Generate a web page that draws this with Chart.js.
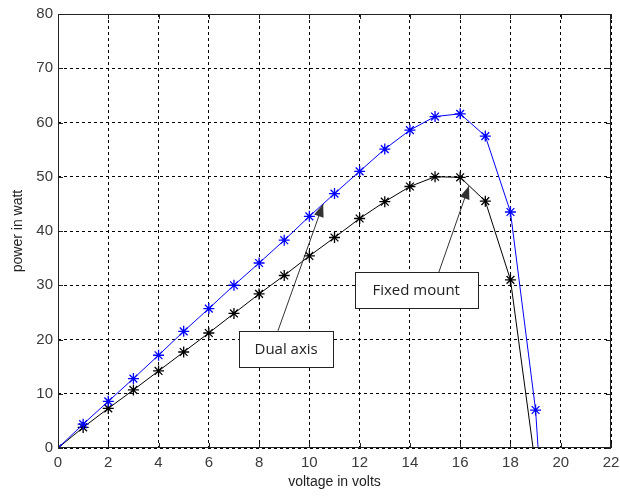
<!DOCTYPE html>
<html>
<head>
<meta charset="utf-8">
<script src="https://cdn.jsdelivr.net/npm/chart.js@4/dist/chart.umd.min.js"></script>
<style>
  html, body { margin: 0; padding: 0; background: #fff; }
  #wrap { width: 620px; height: 496px; }
</style>
</head>
<body>
<div id="wrap"><canvas id="canvas" width="620" height="496"></canvas></div>
<script>
// voltage (V) and power (W)
var dualV   = [0, 1, 2, 3, 4, 5, 6, 7, 8, 9, 10, 11, 12, 13, 14, 15, 16, 17, 18, 19, 19.1];
var dualP   = [0, 4.4, 8.6, 12.8, 17.1, 21.5, 25.7, 30.0, 34.1, 38.3, 42.7, 46.9, 51.0, 55.1, 58.6, 61.1, 61.6, 57.5, 43.5, 7.0, 0];
var fixedV  = [0, 1, 2, 3, 4, 5, 6, 7, 8, 9, 10, 11, 12, 13, 14, 15, 16, 17, 18, 18.9];
var fixedP  = [0, 3.8, 7.3, 10.7, 14.2, 17.7, 21.2, 24.8, 28.4, 31.8, 35.4, 38.8, 42.3, 45.4, 48.2, 50.0, 49.9, 45.5, 31.0, 0];

var xTicks = [0, 22, 2];
var yTicks = [0, 80, 10];

// callouts: label, box corners (x1,y1,x2,y2) and arrow from/to, in data units
var notes = [
  { text: 'Dual axis',   box: [7.2, 21.6, 10.95, 14.9],  from: [8.75, 21.6], to: [10.55, 45.0] },
  { text: 'Fixed mount', box: [11.8, 32.4, 16.7, 25.8],  from: [15.15, 32.4], to: [16.35, 48.3] }
];

function pts(xs, ys) {
  return xs.map(function(x, i) { return { x: x, y: ys[i] }; });
}
function radii(xs) {
  return xs.map(function(x) { return Number.isInteger(x) ? 5.5 : 0; });
}

var frame = {
  id: 'frame',
  afterDraw: function(chart) {
    var ctx = chart.ctx, a = chart.chartArea;
    var sx = chart.scales.x, sy = chart.scales.y;
    ctx.save();
    ctx.strokeStyle = '#222';
    ctx.lineWidth = 1;
    ctx.setLineDash([]);
    ctx.strokeRect(a.left + 0.5, a.top + 0.5, a.right - a.left - 1, a.bottom - a.top - 1);
    // inward ticks on all four sides
    ctx.beginPath();
    sx.ticks.forEach(function(t) {
      var px = Math.round(sx.getPixelForValue(t.value)) + 0.5;
      ctx.moveTo(px, a.bottom); ctx.lineTo(px, a.bottom - 5);
      ctx.moveTo(px, a.top); ctx.lineTo(px, a.top + 5);
    });
    sy.ticks.forEach(function(t) {
      var py = Math.round(sy.getPixelForValue(t.value)) + 0.5;
      ctx.moveTo(a.left, py); ctx.lineTo(a.left + 5, py);
      ctx.moveTo(a.right, py); ctx.lineTo(a.right - 5, py);
    });
    ctx.stroke();

    // callouts
    notes.forEach(function(n) {
      var x1 = sx.getPixelForValue(n.box[0]), y1 = sy.getPixelForValue(n.box[1]);
      var x2 = sx.getPixelForValue(n.box[2]), y2 = sy.getPixelForValue(n.box[3]);
      var fx = sx.getPixelForValue(n.from[0]), fy = sy.getPixelForValue(n.from[1]);
      var tx = sx.getPixelForValue(n.to[0]),   ty = sy.getPixelForValue(n.to[1]);
      ctx.strokeStyle = '#333';
      ctx.fillStyle = '#333';
      ctx.beginPath();
      ctx.moveTo(fx, fy); ctx.lineTo(tx, ty);
      ctx.stroke();
      var ang = Math.atan2(ty - fy, tx - fx), L = 13, W = 5;
      ctx.beginPath();
      ctx.moveTo(tx, ty);
      ctx.lineTo(tx - L * Math.cos(ang) + W * Math.sin(ang), ty - L * Math.sin(ang) - W * Math.cos(ang));
      ctx.lineTo(tx - L * Math.cos(ang) - W * Math.sin(ang), ty - L * Math.sin(ang) + W * Math.cos(ang));
      ctx.closePath();
      ctx.fill();
      ctx.fillStyle = '#fff';
      ctx.fillRect(Math.round(x1) + 0.5, Math.round(y1) + 0.5, Math.round(x2 - x1), Math.round(y2 - y1));
      ctx.strokeStyle = '#222';
      ctx.strokeRect(Math.round(x1) + 0.5, Math.round(y1) + 0.5, Math.round(x2 - x1), Math.round(y2 - y1));
      ctx.fillStyle = '#222';
      ctx.font = '15px "Open Sans", "DejaVu Sans", sans-serif';
      ctx.textAlign = 'center';
      ctx.textBaseline = 'middle';
      ctx.fillText(n.text, (x1 + x2) / 2, (y1 + y2) / 2 + 1);
    });
    ctx.restore();
  }
};

var tickFont = { family: '"Liberation Sans", Arial, sans-serif', size: 15 };
var titleFont = { family: '"Liberation Sans", Arial, sans-serif', size: 14 };

new Chart(document.getElementById('canvas').getContext('2d'), {
  type: 'line',
  data: {
    datasets: [
      {
        label: 'Dual axis',
        data: pts(dualV, dualP),
        borderColor: '#0000ff',
        backgroundColor: '#0000ff',
        borderWidth: 1,
        pointStyle: 'star',
        pointRadius: radii(dualV),
        pointBorderWidth: 1.3,
        pointBorderColor: '#0000ff',
        tension: 0
      },
      {
        label: 'Fixed mount',
        data: pts(fixedV, fixedP),
        borderColor: '#000',
        backgroundColor: '#000',
        borderWidth: 1,
        pointStyle: 'star',
        pointRadius: radii(fixedV),
        pointBorderWidth: 1.3,
        pointBorderColor: '#000',
        tension: 0
      }
    ]
  },
  options: {
    responsive: false,
    animation: false,
    layout: { padding: { top: 14, right: 9, left: 0, bottom: 0 } },
    plugins: { legend: { display: false }, tooltip: { enabled: false } },
    scales: {
      x: {
        type: 'linear',
        min: xTicks[0], max: xTicks[1],
        ticks: { stepSize: xTicks[2], color: '#3a3a3a', font: tickFont, padding: 6, maxRotation: 0 },
        grid: { color: '#000', lineWidth: 1, drawTicks: false },
        border: { display: false, dash: [3, 3] },
        title: { display: true, text: 'voltage in volts', color: '#222', font: titleFont, padding: { top: 0, bottom: 5 } },
        afterFit: function(s) { s.height = 48; s.paddingRight = 0; s.paddingLeft = 0; }
      },
      y: {
        min: yTicks[0], max: yTicks[1],
        ticks: { stepSize: yTicks[2], color: '#3a3a3a', font: tickFont, padding: 5 },
        grid: { color: '#000', lineWidth: 1, drawTicks: false },
        border: { display: false, dash: [3, 3] },
        title: { display: true, text: 'power in watt', color: '#222', font: titleFont, padding: { top: 10, bottom: 0 } },
        afterFit: function(s) { s.width = 58; s.paddingTop = 0; s.paddingBottom = 0; }
      }
    }
  },
  plugins: [frame]
});
</script>
</body>
</html>
